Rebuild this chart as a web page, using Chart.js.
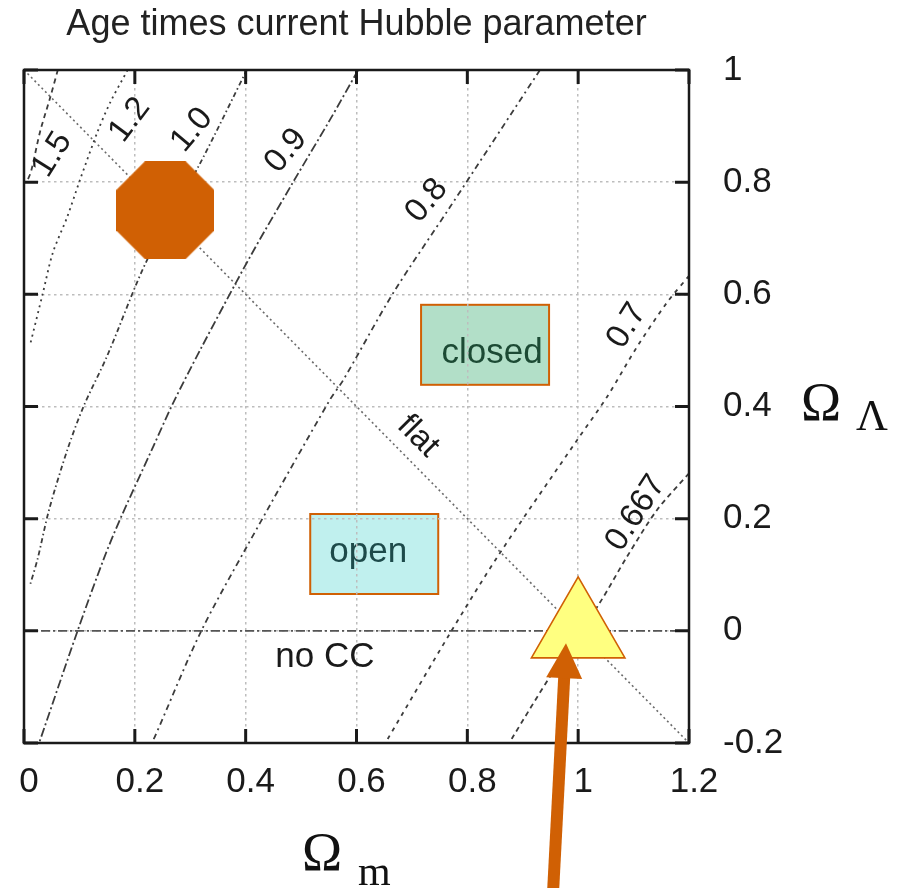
<!DOCTYPE html>
<html><head><meta charset="utf-8">
<script src="https://cdn.jsdelivr.net/npm/chart.js@4.4.1/dist/chart.umd.min.js"></script>
<style>html,body{margin:0;padding:0;background:#fff;} #wrap{width:902px;height:888px;position:relative;}</style>
</head><body><div id="wrap"><canvas id="c" width="902" height="888"></canvas></div>
<script>
// ---- data ----
const xTickValues = [0, 0.2, 0.4, 0.6, 0.8, 1, 1.2];
const xTickLabels = ['0', '0.2', '0.4', '0.6', '0.8', '1', '1.2'];
const yTickValues = [-0.2, 0, 0.2, 0.4, 0.6, 0.8, 1];
const yTickLabels = ['-0.2', '0', '0.2', '0.4', '0.6', '0.8', '1'];

const contourLevels = ['1.5', '1.2', '1.0', '0.9', '0.8', '0.7', '0.667'];
const curve1_5   = [[0.061,1.0],[0.047,0.95],[0.029,0.89],[0.013,0.82],[0.005,0.80]];
const curve1_2   = [[0.187,1.0],[0.155,0.941],[0.132,0.888],[0.101,0.804],[0.078,0.738],[0.052,0.674],[0.034,0.602],[0.011,0.510]];
const curve1_0   = [[0.402,1.0],[0.318,0.834],[0.222,0.661],[0.150,0.490],[0.107,0.399],[0.078,0.322],[0.045,0.215],[0.025,0.130],[0.011,0.082]];
const curve0_9   = [[0.603,1.0],[0.552,0.911],[0.485,0.799],[0.408,0.667],[0.318,0.501],[0.269,0.406],[0.233,0.328],[0.173,0.198],[0.143,0.126],[0.096,-0.002],[0.029,-0.195],[0.027,-0.2]];
const curve0_8   = [[0.931,1.0],[0.769,0.756],[0.666,0.602],[0.576,0.447],[0.552,0.412],[0.402,0.150],[0.318,-0.004],[0.236,-0.189],[0.230,-0.2]];
const curve0_7   = [[1.2,0.633],[1.160,0.585],[1.106,0.506],[1.052,0.417],[0.998,0.340],[0.859,0.139],[0.769,-0.004],[0.655,-0.195],[0.652,-0.2]];
const curve0_667 = [[1.2,0.281],[1.142,0.215],[1.088,0.132],[1.039,0.050],[0.949,-0.082],[0.881,-0.191],[0.876,-0.2]];
const flatLine   = [[0, 1], [1.2, -0.2]];
const noCCLine   = [[0, 0], [1.2, 0]];
const modelLCDM  = [[0.255, 0.75]];   // octagon
const modelEdS   = [[1.0, 0.0]];      // triangle
const arrowFrom  = [0.955, -0.46];
const arrowTo    = [0.978, -0.022];

const curves = [curve1_5, curve1_2, curve1_0, curve0_9, curve0_8, curve0_7, curve0_667];

// ---- styles / annotation placement ----
const curveDash = [[5,4],[2,4],[5,3,1.5,3],[9,3,2,3],[6,4,2,4],[4,5],[5,4]];
const labelPos = [[0.051,0.849,-58],[0.191,0.911,-53],[0.303,0.893,-50],[0.473,0.856,-50],[0.727,0.767,-50],[1.088,0.544,-58],[1.104,0.210,-57]];
const flatLabel = [0.711, 0.347, 45];
const ORANGE = '#d06004';
const SANS = "'Liberation Sans', Arial, Helvetica, sans-serif";
const SERIF = "'Liberation Serif', 'Times New Roman', serif";

const pts = a => a.map(p => ({x: p[0], y: p[1]}));

function makeOctagon(size, color) {
  const c = document.createElement('canvas');
  c.width = c.height = size;
  const g = c.getContext('2d');
  const R = (size / 2) / Math.cos(Math.PI / 8);
  g.beginPath();
  for (let k = 0; k < 8; k++) {
    const a = Math.PI / 8 + k * Math.PI / 4;
    g.lineTo(size / 2 + R * Math.cos(a), size / 2 + R * Math.sin(a));
  }
  g.closePath();
  g.fillStyle = color;
  g.fill();
  return c;
}

const datasets = [];
datasets.push({label: 'ΛCDM', data: pts(modelLCDM), showLine: false, pointStyle: makeOctagon(98, ORANGE), pointRadius: 49, order: 0});
datasets.push({label: 'EdS', data: pts(modelEdS), showLine: false, pointStyle: 'triangle', pointRadius: 54,
  backgroundColor: '#ffff80', borderColor: ORANGE, pointBorderColor: ORANGE, pointBackgroundColor: '#ffff80', pointBorderWidth: 1.6, order: 0});
curves.forEach((c, i) => datasets.push({label: 'H0 t0 = ' + contourLevels[i], data: pts(c), showLine: true, pointRadius: 0,
  borderColor: '#3c3c3c', borderWidth: 1.8, borderDash: curveDash[i], tension: 0.3, order: 2}));
datasets.push({label: 'flat', data: pts(flatLine), showLine: true, pointRadius: 0, borderColor: '#6a6a6a', borderWidth: 1.6, borderDash: [2,3], order: 2});
datasets.push({label: 'no CC', data: pts(noCCLine), showLine: true, pointRadius: 0, borderColor: '#555', borderWidth: 1.7, borderDash: [9,3,2,3], order: 2});

const annot = {
  id: 'annot',
  beforeDraw(chart) {
    const {ctx, scales: {x, y}} = chart;
    const boxes = [
      {x: 0.832, y: 0.510, fill: '#b2dfc8', text: 'closed', color: '#1c4a34', dx: 7, dy: 18},
      {x: 0.632, y: 0.137, fill: '#c0f0ee', text: 'open', color: '#1d4a4a', dx: -6, dy: 8}
    ];
    ctx.save();
    boxes.forEach(b => {
      const cx = x.getPixelForValue(b.x), cy = y.getPixelForValue(b.y);
      ctx.fillStyle = b.fill;
      ctx.fillRect(cx - 64, cy - 40, 128, 80);
      ctx.lineWidth = 2;
      ctx.strokeStyle = ORANGE;
      ctx.strokeRect(cx - 64, cy - 40, 128, 80);
      ctx.fillStyle = b.color;
      ctx.font = '35px ' + SANS;
      ctx.textAlign = 'center';
      ctx.textBaseline = 'alphabetic';
      ctx.fillText(b.text, cx + b.dx, cy + b.dy);
    });
    ctx.restore();
  },
  afterDatasetsDraw(chart) {
    const {ctx, chartArea: ca, scales: {x, y}} = chart;
    ctx.save();
    // frame
    ctx.strokeStyle = '#1a1a1a';
    ctx.lineWidth = 2.5;
    ctx.strokeRect(ca.left, ca.top, ca.right - ca.left, ca.bottom - ca.top);
    // inward ticks on all sides
    ctx.lineWidth = 3;
    const TL = 14;
    x.ticks.forEach(t => {
      const px = x.getPixelForValue(t.value);
      ctx.beginPath();
      ctx.moveTo(px, ca.bottom); ctx.lineTo(px, ca.bottom - TL);
      ctx.moveTo(px, ca.top); ctx.lineTo(px, ca.top + TL);
      ctx.stroke();
    });
    y.ticks.forEach(t => {
      const py = y.getPixelForValue(t.value);
      ctx.beginPath();
      ctx.moveTo(ca.left, py); ctx.lineTo(ca.left + TL, py);
      ctx.moveTo(ca.right, py); ctx.lineTo(ca.right - TL, py);
      ctx.stroke();
    });
    // contour labels
    ctx.fillStyle = '#1a1a1a';
    ctx.font = '33px ' + SANS;
    ctx.textAlign = 'center';
    ctx.textBaseline = 'middle';
    const rotText = (txt, p) => {
      ctx.save();
      ctx.translate(x.getPixelForValue(p[0]), y.getPixelForValue(p[1]));
      ctx.rotate(p[2] * Math.PI / 180);
      ctx.fillText(txt, 0, 0);
      ctx.restore();
    };
    contourLevels.forEach((l, i) => rotText(l, labelPos[i]));
    rotText('flat', flatLabel);
    // no CC
    ctx.font = '35px ' + SANS;
    ctx.textBaseline = 'alphabetic';
    ctx.fillText('no CC', x.getPixelForValue(0.543), y.getPixelForValue(0) + 36);
    // arrow
    const tx = x.getPixelForValue(arrowTo[0]), ty = y.getPixelForValue(arrowTo[1]);
    const fx = x.getPixelForValue(arrowFrom[0]), fy = y.getPixelForValue(arrowFrom[1]);
    const len = Math.hypot(tx - fx, ty - fy);
    const ux = (tx - fx) / len, uy = (ty - fy) / len;
    const headLen = 35, headHalf = 18;
    const bx = tx - ux * headLen, by = ty - uy * headLen;
    ctx.strokeStyle = ORANGE;
    ctx.fillStyle = ORANGE;
    ctx.lineWidth = 12;
    ctx.lineCap = 'butt';
    ctx.beginPath();
    ctx.moveTo(fx, fy); ctx.lineTo(bx + ux * 2, by + uy * 2);
    ctx.stroke();
    ctx.beginPath();
    ctx.moveTo(tx, ty);
    ctx.lineTo(bx - uy * headHalf, by + ux * headHalf);
    ctx.lineTo(bx + uy * headHalf, by - ux * headHalf);
    ctx.closePath();
    ctx.fill();
    ctx.restore();
  },
  afterDraw(chart) {
    const {ctx, chartArea: ca} = chart;
    ctx.save();
    ctx.fillStyle = '#111';
    ctx.textBaseline = 'alphabetic';
    ctx.textAlign = 'left';
    // Omega_m
    ctx.font = '54px ' + SERIF;
    ctx.fillText('Ω', ca.left + 278, ca.bottom + 127);
    ctx.font = '42px ' + SERIF;
    ctx.fillText('m', ca.left + 334, ca.bottom + 142);
    // Omega_Lambda
    ctx.font = '54px ' + SERIF;
    ctx.fillText('Ω', ca.right + 112, ca.top + 350);
    ctx.font = '44px ' + SERIF;
    ctx.fillText('Λ', ca.right + 167, ca.top + 360);
    ctx.restore();
  }
};

new Chart(document.getElementById('c'), {
  type: 'scatter',
  data: {datasets},
  options: {
    responsive: false,
    animation: false,
    devicePixelRatio: 1,
    layout: {autoPadding: false, padding: {left: 24, top: 0, right: 0, bottom: 0}},
    plugins: {
      legend: {display: false},
      tooltip: {enabled: false},
      title: {display: true, text: 'Age times current Hubble parameter', fullSize: false,
        font: {family: SANS, size: 36, weight: 'normal'}, color: '#222', padding: {top: 3, bottom: 23.8}}
    },
    scales: {
      x: {type: 'linear', position: 'bottom', min: 0, max: 1.2,
        afterFit(s) { s.height = 145; s.paddingLeft = 0; s.paddingRight = 0; },
        afterBuildTicks(s) { s.ticks = xTickValues.map(v => ({value: v})); },
        ticks: {callback: (v, i) => xTickLabels[i], font: {family: SANS, size: 35}, color: '#1a1a1a', padding: 18, labelOffset: 5, maxRotation: 0, autoSkip: false},
        grid: {color: '#bdbdbd', lineWidth: 1.5, drawTicks: false},
        border: {display: false, dash: [2.5, 3.5]}
      },
      y: {type: 'linear', position: 'right', min: -0.2, max: 1,
        afterFit(s) { s.width = 213; s.paddingTop = 0; s.paddingBottom = 0; },
        afterBuildTicks(s) { s.ticks = yTickValues.map(v => ({value: v})); },
        ticks: {callback: (v, i) => yTickLabels[i], font: {family: SANS, size: 35}, color: '#1a1a1a', padding: 34, autoSkip: false},
        grid: {color: '#bdbdbd', lineWidth: 1.5, drawTicks: false},
        border: {display: false, dash: [2.5, 3.5]}
      }
    }
  },
  plugins: [annot]
});
</script>
</body></html>
